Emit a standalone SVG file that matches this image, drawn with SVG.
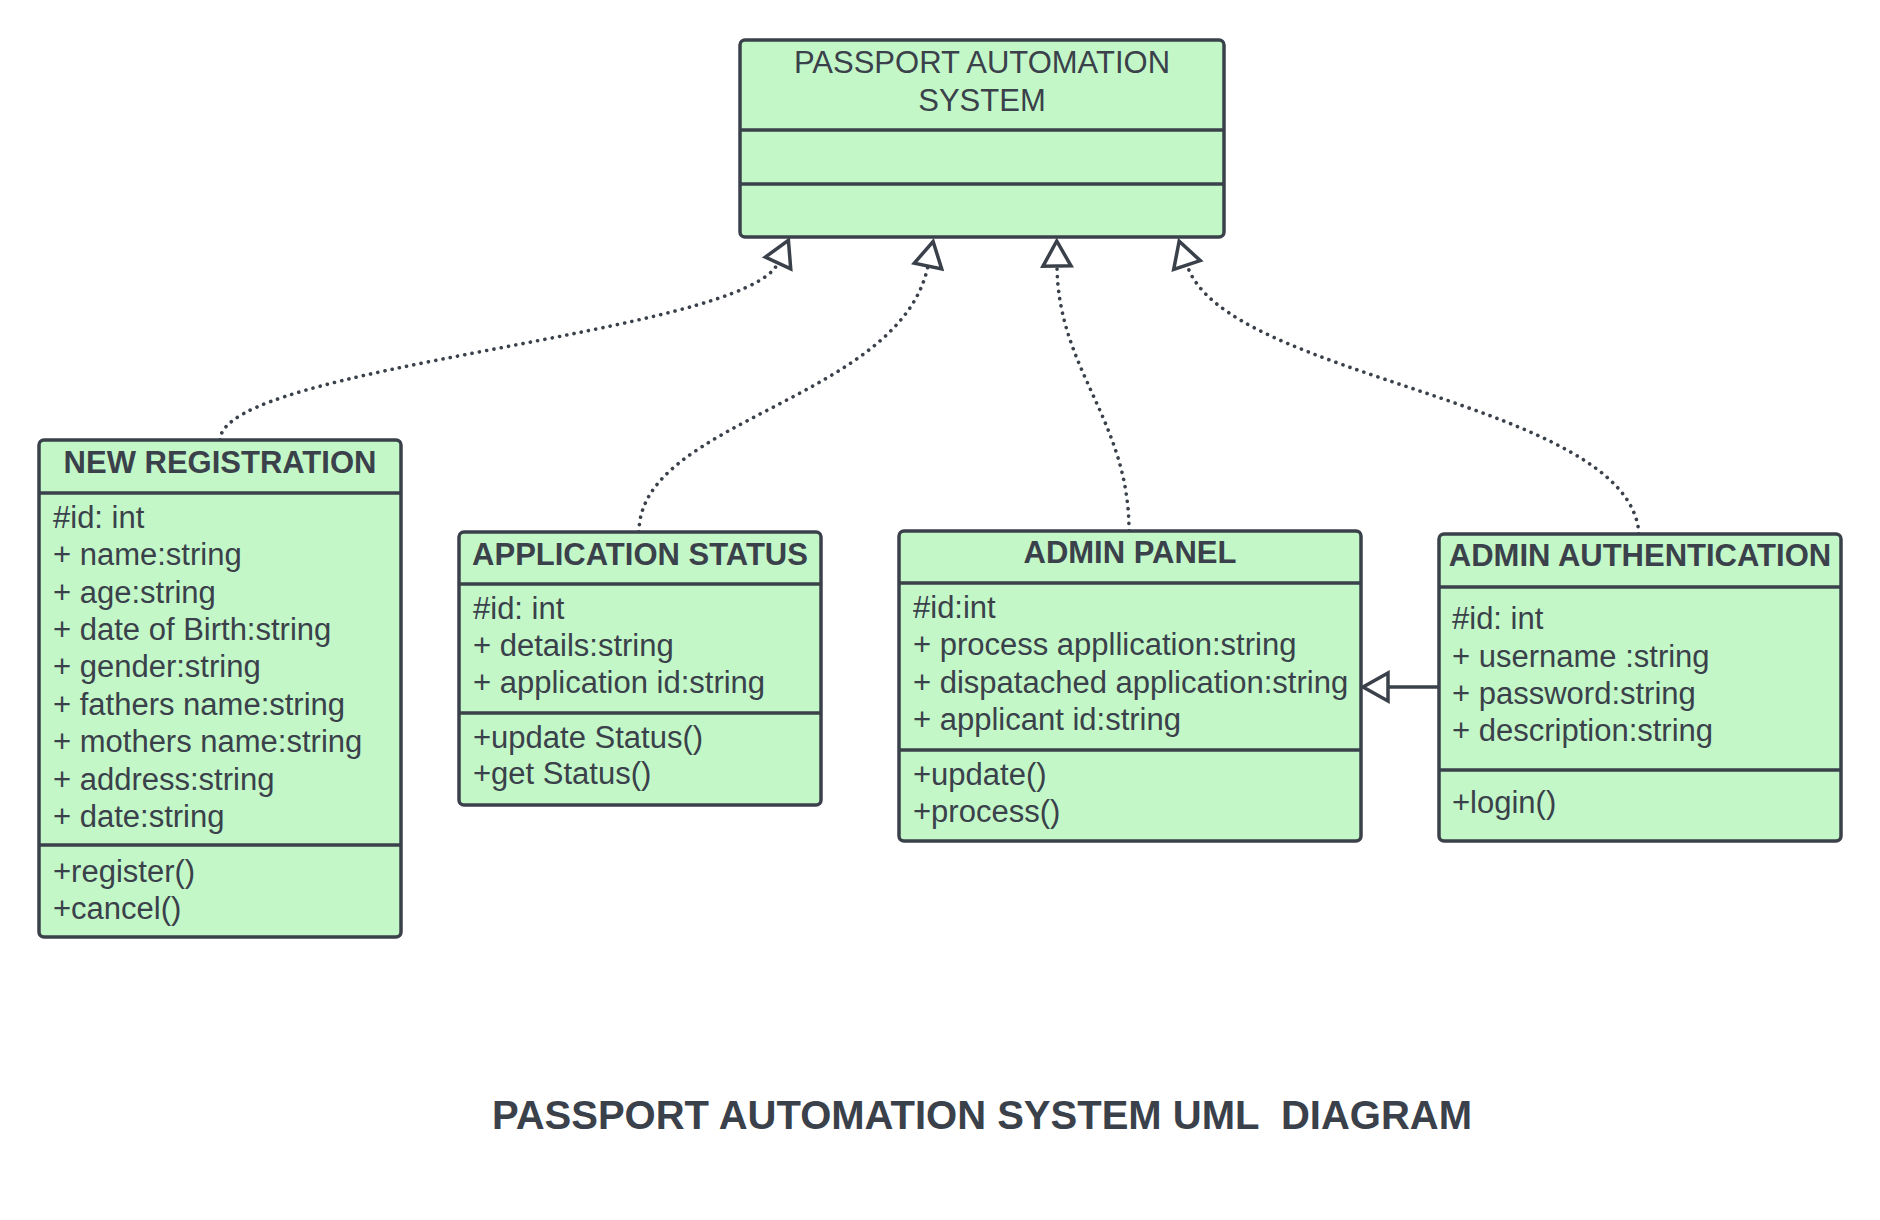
<svg xmlns="http://www.w3.org/2000/svg" width="1880" height="1220" viewBox="0 0 1880 1220">
<style>
.box{fill:#c3f7c8;stroke:#3a414a;stroke-width:3.5}
.div{stroke:#3a414a;stroke-width:3.5}
.t{font-family:"Liberation Sans",Arial,sans-serif;font-size:31px;fill:#3a414a}
.b{font-weight:bold;text-anchor:middle}
.c{text-anchor:middle}
.dot{fill:none;stroke:#3a414a;stroke-width:3.6;stroke-dasharray:0.1 7.3;stroke-linecap:round}
.solid{fill:none;stroke:#3a414a;stroke-width:3.5}
.title{font-family:"Liberation Sans",Arial,sans-serif;font-size:40px;font-weight:bold;fill:#3a414a;text-anchor:middle}
</style>
<defs>
<marker id="tri" markerUnits="userSpaceOnUse" viewBox="-3 -17 32 34" markerWidth="32" markerHeight="34" refX="0" refY="0" orient="auto">
<polygon points="0,-14 25,0 0,14" fill="#ffffff" stroke="#3a414a" stroke-width="3.5"/>
</marker>
</defs>
<rect width="1880" height="1220" fill="#ffffff"/>

<g id="connectors">
<path class="dot" d="M220,440 C222,365 745,335 778,263" marker-end="url(#tri)"/>
<path class="dot" d="M639,532 C639,420 900,400 928,266" marker-end="url(#tri)"/>
<path class="dot" d="M1129,531 C1129,420 1058,370 1057,266" marker-end="url(#tri)"/>
<path class="dot" d="M1639,534 C1630,400 1225,380 1187,265" marker-end="url(#tri)"/>
<path class="solid" d="M1439,687 L1388,687" marker-end="url(#tri)"/>
</g>

<g id="passport-automation-system">
<rect class="box" x="740" y="40" width="484" height="197" rx="5"/>
<line class="div" x1="740" y1="130" x2="1224" y2="130"/>
<line class="div" x1="740" y1="184" x2="1224" y2="184"/>
<text class="t c" x="982" y="73">PASSPORT AUTOMATION</text>
<text class="t c" x="982" y="111">SYSTEM</text>
</g>

<g id="new-registration">
<rect class="box" x="39" y="440" width="362" height="497" rx="5"/>
<line class="div" x1="39" y1="493" x2="401" y2="493"/>
<line class="div" x1="39" y1="845" x2="401" y2="845"/>
<text class="t b" x="220" y="473">NEW REGISTRATION</text>
<text class="t" x="53" y="528">#id: int</text>
<text class="t" x="53" y="565">+ name:string</text>
<text class="t" x="53" y="603">+ age:string</text>
<text class="t" x="53" y="640">+ date of Birth:string</text>
<text class="t" x="53" y="677">+ gender:string</text>
<text class="t" x="53" y="715">+ fathers name:string</text>
<text class="t" x="53" y="752">+ mothers name:string</text>
<text class="t" x="53" y="790">+ address:string</text>
<text class="t" x="53" y="827">+ date:string</text>
<text class="t" x="53" y="882">+register()</text>
<text class="t" x="53" y="919">+cancel()</text>
</g>

<g id="application-status">
<rect class="box" x="459" y="532" width="362" height="273" rx="5"/>
<line class="div" x1="459" y1="584" x2="821" y2="584"/>
<line class="div" x1="459" y1="713" x2="821" y2="713"/>
<text class="t b" x="640" y="565">APPLICATION STATUS</text>
<text class="t" x="473" y="619">#id: int</text>
<text class="t" x="473" y="656">+ details:string</text>
<text class="t" x="473" y="693">+ application id:string</text>
<text class="t" x="473" y="748">+update Status()</text>
<text class="t" x="473" y="784">+get Status()</text>
</g>

<g id="admin-panel">
<rect class="box" x="899" y="531" width="462" height="310" rx="5"/>
<line class="div" x1="899" y1="583" x2="1361" y2="583"/>
<line class="div" x1="899" y1="750" x2="1361" y2="750"/>
<text class="t b" x="1130" y="563">ADMIN PANEL</text>
<text class="t" x="913" y="618">#id:int</text>
<text class="t" x="913" y="655">+ process appllication:string</text>
<text class="t" x="913" y="693">+ dispatached application:string</text>
<text class="t" x="913" y="730">+ applicant id:string</text>
<text class="t" x="913" y="785">+update()</text>
<text class="t" x="913" y="822">+process()</text>
</g>

<g id="admin-authentication">
<rect class="box" x="1439" y="534" width="402" height="307" rx="5"/>
<line class="div" x1="1439" y1="587" x2="1841" y2="587"/>
<line class="div" x1="1439" y1="770" x2="1841" y2="770"/>
<text class="t b" x="1640" y="566">ADMIN AUTHENTICATION</text>
<text class="t" x="1452" y="629">#id: int</text>
<text class="t" x="1452" y="667">+ username :string</text>
<text class="t" x="1452" y="704">+ password:string</text>
<text class="t" x="1452" y="741">+ description:string</text>
<text class="t" x="1452" y="813">+login()</text>
</g>

<g id="diagram-title">
<text class="title" x="982" y="1129" xml:space="preserve">PASSPORT AUTOMATION SYSTEM UML  DIAGRAM</text>
</g>
</svg>
